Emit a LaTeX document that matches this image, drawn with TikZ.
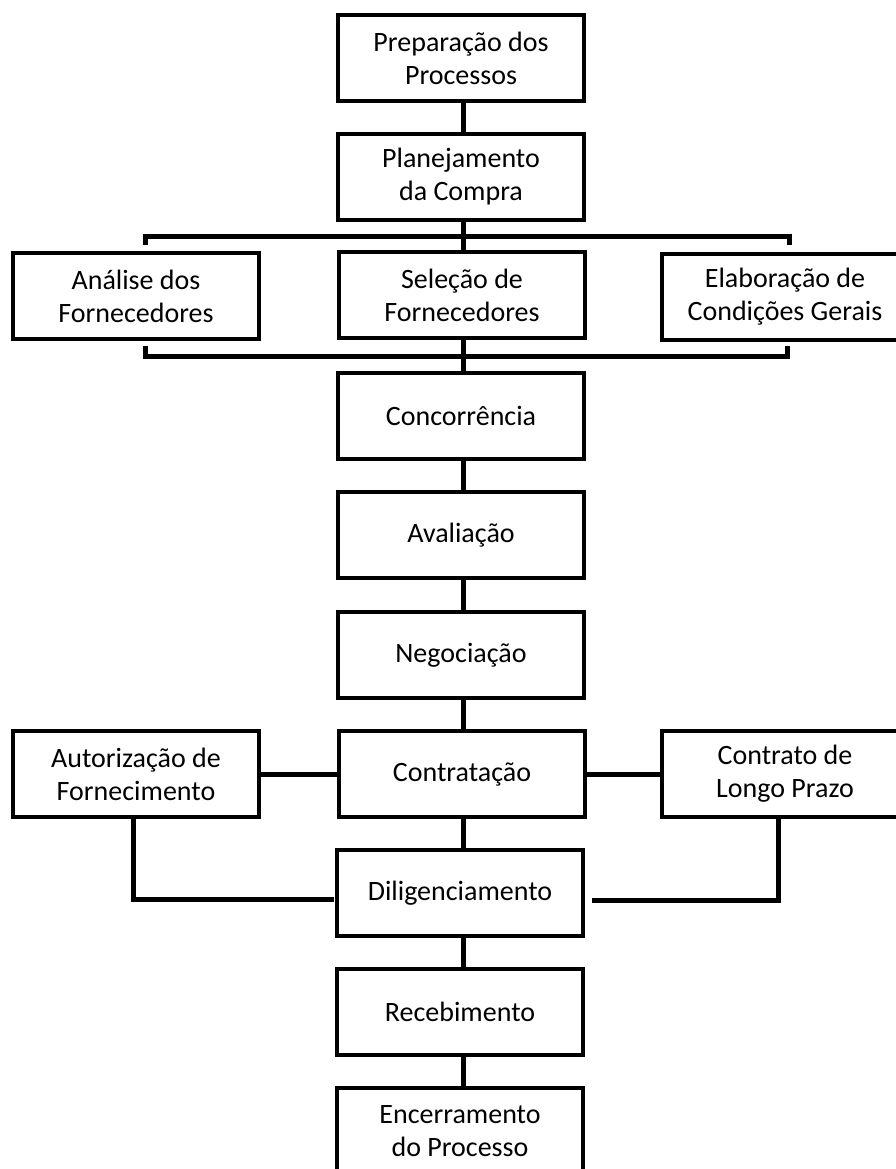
\documentclass[tikz,border=0pt]{standalone}
\usepackage{fontspec}
\setmainfont{Carlito}
\usetikzlibrary{backgrounds}
\tikzset{
  stagebox/.style={draw=black, line width=4pt, fill=white, rectangle,
    minimum width=246pt, minimum height=86pt, inner sep=0pt,
    align=center, font=\fontsize{28}{33}\selectfont},
  link/.style={draw=black, line width=5pt, line join=miter},
}
\begin{document}
\begin{tikzpicture}[x=1pt, y=1pt]
\useasboundingbox (0,0) rectangle (896,-1169);

% main column
\node[stagebox] (prep) at (461,-58)   {Preparação dos\\Processos};
\node[stagebox] (plan) at (461,-177)  {Planejamento\\da Compra};
\node[stagebox] (sel)  at (462,-295)  {Seleção de\\Fornecedores};
\node[stagebox] (conc) at (461,-416)  {Concorrência};
\node[stagebox] (aval) at (461,-535)  {Avaliação};
\node[stagebox] (nego) at (461,-655)  {Negociação};
\node[stagebox] (contr) at (462,-774) {Contratação};
\node[stagebox] (dil)  at (460,-893)  {Diligenciamento};
\node[stagebox] (rec)  at (460,-1012) {Recebimento};
\node[stagebox] (enc)  at (460,-1131) {Encerramento\\do Processo};

% side stages
\node[stagebox] (anal)  at (136,-296) {Análise dos\\Fornecedores};
\node[stagebox] (elab)  at (785,-297) {Elaboração de\\Condições Gerais};
\node[stagebox] (aut)   at (136,-774) {Autorização de\\Fornecimento};
\node[stagebox] (longo) at (785,-774) {Contrato de\\Longo Prazo};

% bracket and elbow coordinates
\coordinate (tl) at (145,-245);
\coordinate (tr) at (789,-245);
\coordinate (barT) at (463,-236);
\coordinate (bl) at (145,-346);
\coordinate (br) at (787,-346);
\coordinate (barB) at (463,-356);
\coordinate (dilL) at (334,-899);
\coordinate (dilR) at (592,-900);

\begin{scope}[on background layer]
\fill[white] (0,0) rectangle (896,-1169);
\draw[link] (prep.south -| barT) -- (plan.north -| barT);
\draw[link] (plan.south -| barT) -- (sel.north -| barT);
\draw[link] (tl) |- (barT) -| (tr);
\draw[link] (bl) |- (barB) -| (br);
\draw[link] (sel.south -| barT) -- (conc.north -| barT);
\draw[link] (conc.south -| barT) -- (aval.north -| barT);
\draw[link] (aval.south -| barT) -- (nego.north -| barT);
\draw[link] (nego.south -| barT) -- (contr.north -| barT);
\draw[link] (aut.east) -- (contr.west);
\draw[link] (contr.east) -- (longo.west);
\draw[link] (contr.south -| barT) -- (dil.north -| barT);
\draw[link] ([xshift=-3pt]aut.south) |- (dilL);
\draw[link] ([xshift=-7pt]longo.south) |- (dilR);
\draw[link] (dil.south -| barT) -- (rec.north -| barT);
\draw[link] (rec.south -| barT) -- (enc.north -| barT);
\end{scope}
\end{tikzpicture}
\end{document}
